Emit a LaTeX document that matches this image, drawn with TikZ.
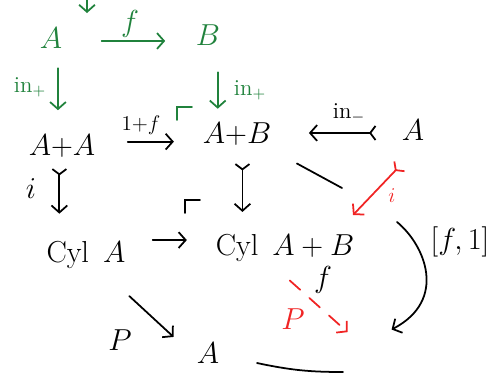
\documentclass[tikz,border=0pt]{standalone}
\usetikzlibrary{arrows.meta}
\definecolor{pengreen}{RGB}{32,130,60}
\definecolor{penred}{RGB}{240,36,36}
\begin{document}
\begin{tikzpicture}[
            x=0.02cm,
            y=-0.02cm,
            line width=1pt,
            line cap=round,
            every node/.style={
                inner sep=1pt,
                font=\fontsize{16}{18}\selectfont
            },
            obj/.style={
                anchor=base,
                text height=11pt,
                text depth=3pt
            },
            lbl/.style={font=\fontsize{13}{15}\selectfont},
            arr/.style={-{Straight Barb[length=4pt,width=9pt]}},
            mono/.style={{Straight Barb[reversed,length=3pt,width=8pt]}-{Straight Barb[length=4pt,width=9pt]}}
        ]
            \useasboundingbox (0,0) rectangle (500,383);

            % green square
            \node[obj,pengreen] (a) at (51,48) {$A$};
            \node[obj,pengreen] (b) at (208,45) {$B$};
            \node[pengreen] (lf) at (130,24) {$f$};
            \node[lbl,pengreen] (linl) at (30,87) {in$_+$};
            \node[lbl,pengreen] (linr) at (250,90) {in$_+$};
            \coordinate (topin) at (87,-6);
            \coordinate (topout) at (87,13);

            % black objects
            \node[obj] (aa) at (62,155) {$A{+}A$};
            \node[obj] (ab) at (237,143) {$A{+}B$};
            \node[obj] (a1) at (413,140) {$A$};
            \node[obj] (cyla) at (86,262) {$\mathrm{Cyl}\enspace A$};
            \node[obj] (cylab) at (285,255) {$\mathrm{Cyl}\enspace A+B$};
            \node[obj] (a2) at (208,363) {$A$};
            \coordinate (tgt) at (362,345);
            \coordinate (gapa) at (342,188);
            \coordinate (gapb) at (397,222);
            \coordinate (itip) at (353,215);

            \node[lbl] (l1f) at (141,125) {$1{+}f$};
            \node[lbl] (lin) at (349,113) {in$_-$};
            \node (li) at (31,189) {$i$};
            \node (lfone) at (460,242) {$[f,1]$};
            \node (lff) at (323,280) {$f$};
            \node (lp) at (120,340) {$P$};
            \node[penred] (lpr) at (293,319) {$P$};
            \node[lbl,penred] (lir) at (392,196) {$i$};

            \draw[arr,pengreen] (topin)--(topout);
            \draw[arr,pengreen,shorten <=21pt,shorten >=16pt] (a.east)--(a.east -| b.west);
            \draw[arr,pengreen,shorten <=7pt,shorten >=13pt] (a.-65)--(a.-65 |- aa.north);
            \draw[arr,pengreen,shorten <=11pt,shorten >=7pt] (b.-57)--(b.-57 |- ab.north);
            \draw[pengreen] (177,120)--(177,107)--(192,107);

            \draw[arr,shorten <=17pt,shorten >=15pt] (aa.10)--(aa.10 -| ab.west);
            \draw[mono,shorten <=13pt,shorten >=20pt] (a1.west)--(a1.west -| ab.east);
            \draw[mono,shorten <=3pt,shorten >=15pt] (aa.-100)--(aa.-100 |- cyla.north);
            \draw[mono,shorten <=7pt,shorten >=12pt] (ab.-70)--(ab.-70 |- cylab.north);
            \draw[arr,shorten <=14pt,shorten >=15pt] (cyla.north east)--(cyla.north east -| cylab.west);
            \draw (185,213)--(185,200)--(200,200);
            \draw[arr,shorten <=22pt,shorten >=16pt] (cyla.-45)--(a2.west);

            \draw[shorten <=15pt] (ab.south east)--(gapa);
            \draw[arr,shorten >=19pt] (gapb) .. controls (425,245) and (448,300) .. (tgt);

            \draw[mono,penred,shorten <=14pt] (a1.-75)--(itip);
            \draw[arr,penred,dash pattern=on 8pt off 7pt,shorten <=15pt,shorten >=11pt] (cylab.-135)--(tgt);

            \draw (257,363) to[bend right=6] (343,372);
        \end{tikzpicture}
\end{document}
